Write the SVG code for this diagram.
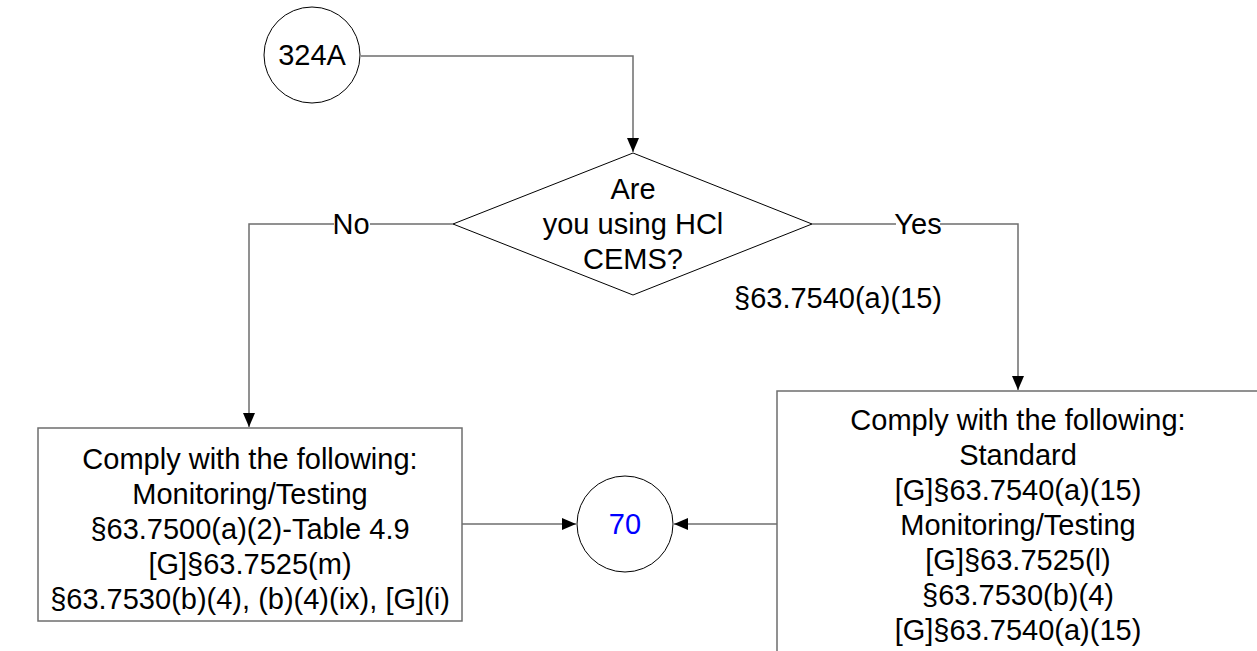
<svg xmlns="http://www.w3.org/2000/svg" width="1257" height="651" viewBox="0 0 1257 651">
  <defs>
    <marker id="arrow" viewBox="0 0 14 12" refX="14" refY="6" markerWidth="14" markerHeight="12" markerUnits="userSpaceOnUse" orient="auto">
      <path d="M0,0 L14,6 L0,12 Z" fill="#000"/>
    </marker>
    <style>
      text { font-family: "Liberation Sans", Arial, sans-serif; font-size: 29px; fill: #000; text-anchor: middle; }
      .conn { fill: none; stroke: #6e6e6e; stroke-width: 1.5; }
      .shape { fill: #fff; stroke: #000; stroke-width: 1; }
      .box { fill: #fff; stroke: #6e6e6e; stroke-width: 1.5; }
      .lbl { fill: #fff; stroke: none; }
      .blue { fill: #0000ff; }
    </style>
  </defs>
  <rect width="1257" height="651" fill="#fff"/>

  <g id="connectors">
    <path class="conn" d="M361,56 H633 V152" marker-end="url(#arrow)"/>
    <path class="conn" d="M453,224 H249 V427" marker-end="url(#arrow)"/>
    <path class="conn" d="M812,224 H1018 V390" marker-end="url(#arrow)"/>
    <path class="conn" d="M462,524 H576" marker-end="url(#arrow)"/>
    <path class="conn" d="M777,524 H674" marker-end="url(#arrow)"/>
    <g id="label-no">
      <rect class="lbl" x="334" y="210" width="36" height="28"/>
      <text x="351" y="234">No</text>
    </g>
    <g id="label-yes">
      <rect class="lbl" x="896" y="210" width="44" height="28"/>
      <text x="918" y="234">Yes</text>
    </g>
  </g>

  <g id="node-324A">
    <circle class="shape" cx="312" cy="55" r="48"/>
    <text x="312" y="65">324A</text>
  </g>

  <g id="node-decision">
    <polygon class="shape" points="633,153 812,224 633,295 453,224"/>
    <text x="633" y="199">Are</text>
    <text x="633" y="234">you using HCl</text>
    <text x="633" y="269">CEMS?</text>
  </g>

  <g id="node-ref">
    <text x="838" y="308">§63.7540(a)(15)</text>
  </g>

  <g id="node-left-box">
    <rect class="box" x="38" y="428" width="424" height="193"/>
    <text x="250" y="469">Comply with the following:</text>
    <text x="250" y="504">Monitoring/Testing</text>
    <text x="250" y="539">§63.7500(a)(2)-Table 4.9</text>
    <text x="250" y="574">[G]§63.7525(m)</text>
    <text x="250" y="609">§63.7530(b)(4), (b)(4)(ix), [G](i)</text>
  </g>

  <g id="node-70">
    <circle class="shape" cx="625" cy="524" r="48"/>
    <text class="blue" x="625" y="534">70</text>
  </g>

  <g id="node-right-box">
    <rect class="box" x="777" y="391" width="482" height="270"/>
    <text x="1018" y="430">Comply with the following:</text>
    <text x="1018" y="465">Standard</text>
    <text x="1018" y="500">[G]§63.7540(a)(15)</text>
    <text x="1018" y="535">Monitoring/Testing</text>
    <text x="1018" y="570">[G]§63.7525(l)</text>
    <text x="1018" y="605">§63.7530(b)(4)</text>
    <text x="1018" y="640">[G]§63.7540(a)(15)</text>
  </g>
</svg>
